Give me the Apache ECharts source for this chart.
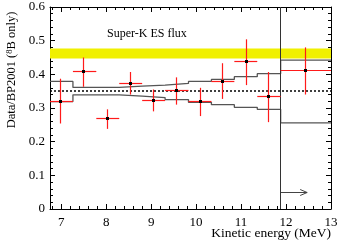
<!DOCTYPE html>
<html>
<head>
<meta charset="utf-8">
<script src="https://cdn.jsdelivr.net/npm/echarts@6/dist/echarts.min.js"></script>
<style>
html,body{margin:0;padding:0;background:#fff;}
#chart{width:364px;height:244px;}
</style>
</head>
<body>
<div id="chart"></div>
<script>
// ---- data ----
const energies = [6.99, 7.50, 8.02, 8.54, 9.06, 9.57, 10.09, 10.59, 11.11, 11.62, 12.43];
const ratio    = [0.320, 0.408, 0.268, 0.374, 0.323, 0.352, 0.319, 0.380, 0.437, 0.333, 0.410];
const errLow   = [0.254, 0.363, 0.238, 0.340, 0.290, 0.310, 0.276, 0.327, 0.368, 0.258, 0.340];
const errHigh  = [0.387, 0.450, 0.296, 0.407, 0.355, 0.391, 0.360, 0.433, 0.504, 0.407, 0.480];
const binEdges = [6.75, 7.26, 7.78, 8.29, 8.80, 9.31, 9.83, 10.34, 10.85, 11.36, 11.88, 13];
const bandUpper = [0.379, 0.361, 0.361, 0.365, 0.368, 0.373, 0.379, 0.385, 0.393, 0.402, 0.442];
const bandLower = [0.319, 0.339, 0.339, 0.335, 0.331, 0.325, 0.317, 0.310, 0.302, 0.296, 0.256];
const superKBand = [0.447, 0.477];
const meanRatio = 0.349;
const thresholdE = 11.88;
const arrowX = [11.88, 12.47];
const arrowY = 0.049;
const xTickLabels = [7, 8, 9, 10, 11, 12, 13];
const yTickLabels = [0, 0.1, 0.2, 0.3, 0.4, 0.5, 0.6];

// minor x ticks every 0.2 MeV
const xMinor = [];
for (let v = 6.8; v < 13; v += 0.2) {
  const r = Math.round(v * 10) / 10;
  if (Math.abs(r - Math.round(r)) > 1e-6) xMinor.push(r);
}

const serif = 'Liberation Serif';
const pointData = energies.map((e, i) => [e, ratio[i], binEdges[i], binEdges[i + 1], errLow[i], errHigh[i]]);
const stepData = (vals) => vals.map((v, i) => [binEdges[i], v]).concat([[binEdges[binEdges.length - 1], vals[vals.length - 1]]]);

const crisp = v => Math.round(v - 0.5) + 0.5;

const baseX = {type: 'value', min: 6.75, max: 13, gridIndex: 0, splitLine: {show: false}};
const chart = echarts.init(document.getElementById('chart'), null, {renderer: 'canvas'});
chart.setOption({
  animation: false,
  grid: {left: 50, right: 33, top: 7, bottom: 35},
  xAxis: [
    Object.assign({}, baseX, {position: 'bottom',
      axisLine: {show: true, onZero: false, lineStyle: {color: '#000', width: 1}},
      axisTick: {show: true, inside: true, length: 5, customValues: xTickLabels, lineStyle: {color: '#000'}},
      axisLabel: {show: true, customValues: xTickLabels, color: '#000', fontFamily: serif, fontSize: 13, margin: 7}}),
    Object.assign({}, baseX, {position: 'bottom',
      axisLine: {show: false, onZero: false},
      axisTick: {show: true, inside: true, length: 3, customValues: xMinor, lineStyle: {color: '#000'}},
      axisLabel: {show: false}}),
    Object.assign({}, baseX, {position: 'top',
      axisLine: {show: true, onZero: false, lineStyle: {color: '#000', width: 1}},
      axisTick: {show: true, inside: true, length: 5, customValues: xTickLabels, lineStyle: {color: '#000'}},
      axisLabel: {show: false}}),
    Object.assign({}, baseX, {position: 'top',
      axisLine: {show: false, onZero: false},
      axisTick: {show: true, inside: true, length: 3, customValues: xMinor, lineStyle: {color: '#000'}},
      axisLabel: {show: false}})
  ],
  yAxis: [
    {type: 'value', min: 0, max: 0.6, interval: 0.1, position: 'left', splitLine: {show: false},
      axisLine: {show: true, onZero: false, lineStyle: {color: '#000', width: 1}},
      axisTick: {show: true, inside: true, length: 5, lineStyle: {color: '#000'}},
      minorTick: {show: true, splitNumber: 5, length: 3, lineStyle: {color: '#000'}},
      axisLabel: {color: '#000', fontFamily: serif, fontSize: 13, margin: 5,
        formatter: v => { const m = yTickLabels.find(t => Math.abs(t - v) < 1e-9); return m === 0 ? '0' : m.toFixed(1); }}},
    {type: 'value', min: 0, max: 0.6, interval: 0.1, position: 'right', splitLine: {show: false},
      axisLine: {show: true, onZero: false, lineStyle: {color: '#000', width: 1}},
      axisTick: {show: true, inside: true, length: 5, lineStyle: {color: '#000'}},
      minorTick: {show: true, splitNumber: 5, length: 3, lineStyle: {color: '#000'}},
      axisLabel: {show: false}}
  ],
  series: [
    {type: 'line', step: 'end', data: stepData(bandUpper), symbol: 'none', silent: true,
      lineStyle: {color: '#555', width: 1.3}, z: 3,
      markArea: {silent: true, itemStyle: {color: '#f0f000'}, data: [[{yAxis: superKBand[0]}, {yAxis: superKBand[1]}]]},
      markLine: {silent: true, symbol: 'none', label: {show: false}, animation: false,
        data: [
          {yAxis: meanRatio, lineStyle: {color: '#000', type: [2, 2], width: 1.5}},
          {xAxis: thresholdE, lineStyle: {color: '#333', type: 'solid', width: 1}}
        ]}},
    {type: 'line', step: 'end', data: stepData(bandLower), symbol: 'none', silent: true,
      lineStyle: {color: '#555', width: 1.3}, z: 3},
    {type: 'custom', data: [[arrowX[0], arrowX[1], arrowY]], silent: true, z: 4,
      renderItem: (params, api) => {
        const a = api.coord([api.value(0), api.value(2)]);
        const b = api.coord([api.value(1), api.value(2)]);
        const y = crisp(a[1]);
        return {type: 'group', children: [
          {type: 'line', shape: {x1: a[0], y1: y, x2: b[0], y2: y}, style: {stroke: '#444', lineWidth: 1}},
          {type: 'polyline', shape: {points: [[b[0] - 7, y - 3], [b[0], y], [b[0] - 7, y + 3]]}, style: {stroke: '#444', lineWidth: 1, fill: null}}
        ]};
      }},
    {type: 'custom', data: pointData, silent: true, z: 5,
      renderItem: (params, api) => {
        const x = api.value(0), y = api.value(1);
        const c = api.coord([x, y]);
        const l = api.coord([api.value(2), y]);
        const r = api.coord([api.value(3), y]);
        const lo = api.coord([x, api.value(4)]);
        const hi = api.coord([x, api.value(5)]);
        const cx = crisp(c[0]), cy = crisp(c[1]);
        return {type: 'group', children: [
          {type: 'line', shape: {x1: l[0], y1: cy, x2: r[0], y2: cy}, style: {stroke: '#ff1a1a', lineWidth: 1.2}},
          {type: 'line', shape: {x1: cx, y1: hi[1], x2: cx, y2: lo[1]}, style: {stroke: '#ff1a1a', lineWidth: 1.2}},
          {type: 'rect', shape: {x: cx - 1.5, y: cy - 1.5, width: 3, height: 3}, style: {fill: '#000'}}
        ]};
      }}
  ],
  graphic: [
    {type: 'text', left: 107, top: 28, style: {text: 'Super-K ES flux', fontFamily: serif, fontSize: 12, fill: '#000'}},
    {type: 'text', right: 33, top: 226, style: {text: 'Kinetic energy (MeV)', fontFamily: serif, fontSize: 13.5, fill: '#000'}},
    {type: 'text', x: 12, y: 70, rotation: Math.PI / 2,
      style: {text: 'Data/BP2001 ({sup|8}B only)', fontFamily: serif, fontSize: 12.5, fill: '#000',
        align: 'center', verticalAlign: 'middle',
        rich: {sup: {fontFamily: serif, fontSize: 8.5, verticalAlign: 'top', fill: '#000'}}}}
  ]
});
</script>
</body>
</html>
